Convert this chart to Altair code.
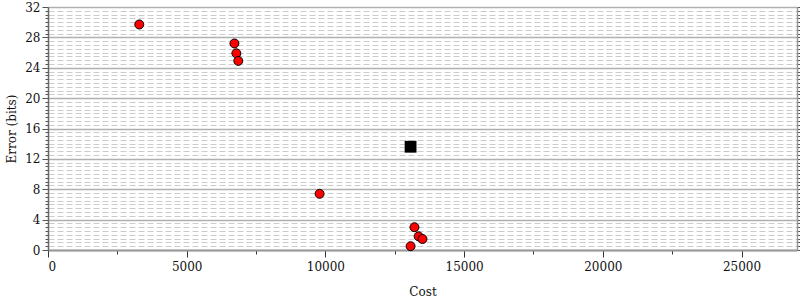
import altair as alt
import pandas as pd

cost_red = [3290, 6720, 6790, 6860, 9790, 13210, 13360, 13500, 13070]
err_red = [29.7, 27.2, 25.9, 24.9, 7.4, 3.0, 1.8, 1.45, 0.5]
cost_best = [13070]
err_best = [13.6]

y_ticks = [i * 0.5 for i in range(0, 65)]
x_ticks = [i * 2500 for i in range(0, 11)]

red = pd.DataFrame({"cost": cost_red, "err": err_red})
best = pd.DataFrame({"cost": cost_best, "err": err_best})

FONT = "DejaVu Serif"
xscale = alt.Scale(domain=[0, 27000], nice=False, zero=False)
yscale = alt.Scale(domain=[0, 32], nice=False, zero=False)

x_axis = alt.Axis(
    values=x_ticks, title="Cost", grid=False,
    labelExpr="datum.value % 5000 === 0 ? format(datum.value, 'd') : ''",
    tickSize={"condition": {"test": "datum.value % 5000 === 0", "value": 7}, "value": 4},
    tickColor="#333", domainColor="#999", domainWidth=2,
    labelFont=FONT, titleFont=FONT, labelFontSize=12, titleFontSize=12,
    titleFontWeight="normal", labelColor="#111", titleColor="#111",
    labelPadding=4, titlePadding=14,
)
y_axis = alt.Axis(
    values=y_ticks, title="Error (bits)", orient="left",
    labelExpr="datum.value % 4 === 0 ? format(datum.value, 'd') : ''",
    tickSize={"condition": {"test": "datum.value % 4 === 0", "value": 6}, "value": 3},
    tickColor="#555", domainColor="#666", domainWidth=1.5,
    grid=True,
    gridDash={"condition": {"test": "datum.value % 4 === 0", "value": []}, "value": [6, 3]},
    gridColor={"condition": {"test": "datum.value % 4 === 0", "value": "#b0b0b0"}, "value": "#cccccc"},
    gridWidth={"condition": {"test": "datum.value % 4 === 0", "value": 1.5}, "value": 1},
    labelFont=FONT, titleFont=FONT, labelFontSize=12, titleFontSize=12,
    titleFontWeight="normal", labelColor="#111", titleColor="#111",
    labelPadding=2, titlePadding=6,
)
y_axis_r = alt.Axis(
    values=y_ticks, orient="right", title=None, labels=False, grid=False,
    tickSize={"condition": {"test": "datum.value % 4 === 0", "value": 6}, "value": 3},
    tickColor="#555", domainColor="#999", domainWidth=1.5,
)

pts = alt.Chart(red).mark_circle(size=80, color="red", stroke="black", strokeWidth=1, opacity=1).encode(
    x=alt.X("cost:Q", scale=xscale, axis=x_axis),
    y=alt.Y("err:Q", scale=yscale, axis=y_axis),
)
sq = alt.Chart(best).mark_square(size=140, color="black", opacity=1).encode(
    x=alt.X("cost:Q", scale=xscale),
    y=alt.Y("err:Q", scale=yscale, axis=y_axis_r),
)

chart = alt.layer(pts, sq).resolve_axis(y="independent").properties(
    width=749, height=243,
    autosize=alt.AutoSizeParams(type="none"),
    padding={"left": 48, "top": 7, "right": 3, "bottom": 50},
).configure_view(stroke="#999", strokeWidth=1.5).configure(background="white")

chart.save("out.html", embed_options={"renderer": "svg", "actions": False})
